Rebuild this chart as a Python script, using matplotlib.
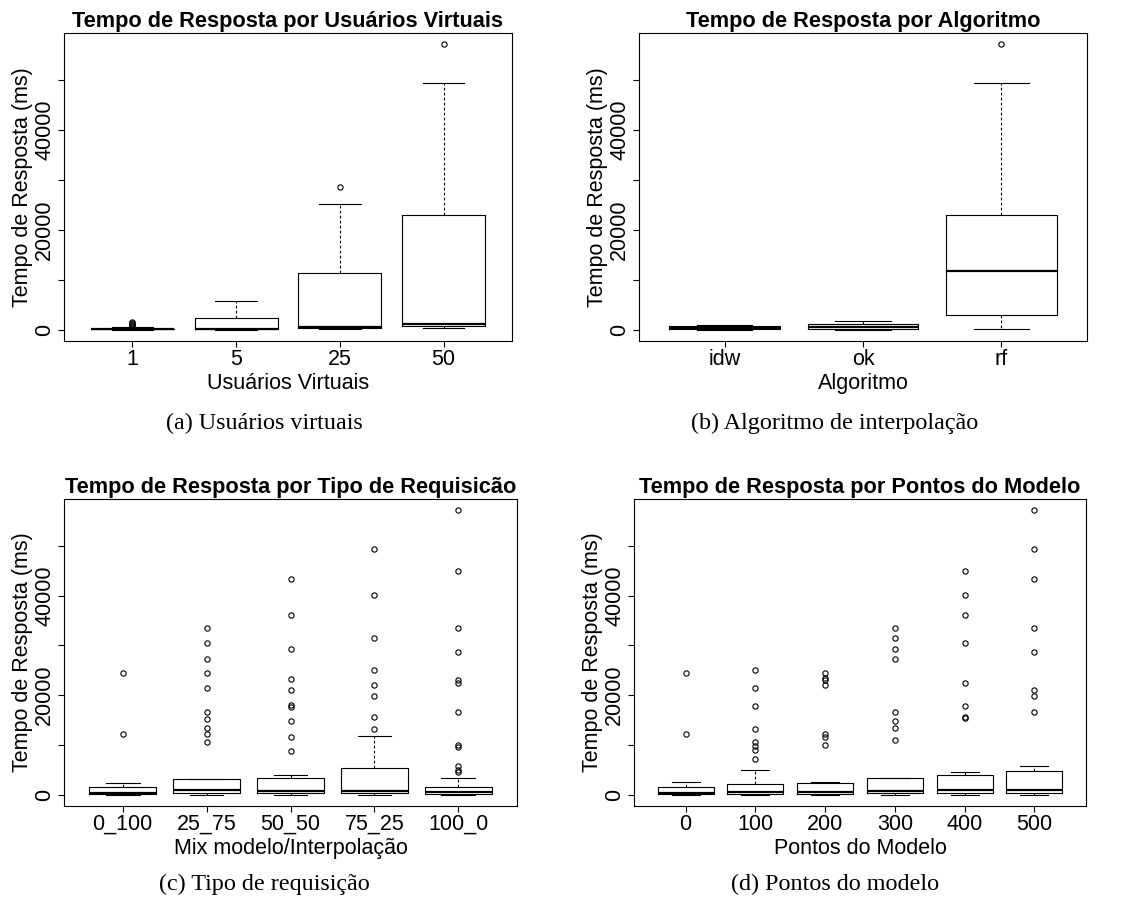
import numpy as np
import matplotlib
matplotlib.use("Agg")
import matplotlib.pyplot as plt

plt.rcParams["font.family"] = ["Liberation Sans", "DejaVu Sans"]

# ---- (a) usuarios virtuais
users_labels = ["1", "5", "25", "50"]
users_q1 = [30, 20, 400, 800]
users_med = [100, 100, 535, 1140]
users_q3 = [200, 2275, 11240, 22880]
users_lo = [0, 0, 130, 270]
users_hi = [540, 5750, 25090, 49370]
users_fliers = [[700, 900, 1100, 1300, 1500], [], [28630], [57130]]

# ---- (b) algoritmo
alg_labels = ["idw", "ok", "rf"]
alg_q1 = [20, 80, 3010]
alg_med = [300, 540, 11640]
alg_q3 = [700, 1080, 22880]
alg_lo = [0, 0, 67]
alg_hi = [1000, 1740, 49370]
alg_fliers = [[], [], [57130]]

# ---- (c) tipo de requisicao
req_labels = ["0_100", "25_75", "50_50", "75_25", "100_0"]
req_q1 = [130, 335, 400, 335, 135]
req_med = [335, 870, 800, 735, 600]
req_q3 = [1600, 3210, 3280, 5420, 1600]
req_lo = [0, 0, 0, 0, 0]
req_hi = [2400, 3210, 3950, 11710, 3410]
req_fliers = [
    [24490, 12180],
    [33580, 30510, 27160, 24490, 21340, 16590, 15250, 13450, 12240, 10640],
    [43420, 36060, 29240, 23280, 21010, 17950, 17650, 14720, 11640, 8830],
    [49370, 40210, 31510, 25090, 21940, 19870, 15520, 13250],
    [57130, 44960, 33520, 28630, 23010, 22410, 16520, 9970, 9570, 5820, 4950, 4480],
]

# ---- (d) pontos do modelo
pts_labels = ["0", "100", "200", "300", "400", "500"]
pts_q1 = [70, 200, 200, 335, 335, 335]
pts_med = [335, 470, 535, 735, 870, 940]
pts_q3 = [1600, 2210, 2410, 3280, 3880, 4680]
pts_lo = [0, 0, 0, 0, 0, 0]
pts_hi = [2475, 4880, 2475, 3410, 4480, 5820]
pts_fliers = [
    [24490, 12180],
    [25090, 21340, 17800, 13250, 10640, 9770, 8960, 7230],
    [24490, 23410, 23080, 21940, 12240, 11640, 9970],
    [33520, 31510, 29240, 27160, 16520, 14780, 13380, 10900],
    [44960, 40210, 36060, 30510, 22410, 17730, 15520, 15320],
    [57130, 49370, 43420, 33580, 28630, 21070, 19870, 16520],
]


def r_boxplot(ax, labels, q1, med, q3, lo, hi, fliers, title, xlabel):
    n = len(labels)
    stats = []
    for i in range(n):
        stats.append(dict(med=med[i], q1=q1[i], q3=q3[i],
                          whislo=lo[i], whishi=hi[i], fliers=fliers[i]))
    ax.bxp(stats, positions=range(1, n + 1), widths=0.8, capwidths=0.4,
           boxprops=dict(color="black", linewidth=0.8),
           medianprops=dict(color="black", linewidth=1.6, solid_capstyle="butt"),
           whiskerprops=dict(color="black", linewidth=0.8, linestyle=(0, (2.5, 2))),
           capprops=dict(color="black", linewidth=0.8),
           flierprops=dict(marker="o", markersize=3.8, markerfacecolor="none",
                           markeredgecolor="black", markeredgewidth=0.8))

    allv = lo + hi + [v for f in fliers for v in f]
    vmin, vmax = min(allv), max(allv)
    ext = 0.04 * (vmax - vmin)
    ax.set_ylim(vmin - ext, vmax + ext)
    ax.set_xlim(0.5 - 0.04 * n, n + 0.5 + 0.04 * n)

    ax.set_xticks(range(1, n + 1))
    ax.set_xticklabels(labels, fontsize=15.5)
    yt = np.arange(0, 50001, 10000)
    ax.set_yticks(yt)
    ax.set_yticklabels([str(v) if v % 20000 == 0 else "" for v in yt],
                       fontsize=15.5, rotation=90, va="center")
    ax.tick_params(axis="both", length=4.3, width=0.8, direction="out")
    ax.tick_params(axis="x", pad=1.5)
    ax.tick_params(axis="y", pad=2)
    for s in ax.spines.values():
        s.set_linewidth(0.8)
    ax.set_title(title, fontsize=15.7, fontweight="bold", pad=4)
    ax.set_xlabel(xlabel, fontsize=15.5, labelpad=2)
    ax.set_ylabel("Tempo de Resposta (ms)", fontsize=15.5, labelpad=1)


fig = plt.figure(figsize=(11.3, 9.02), dpi=100)
ax1 = fig.add_axes([64 / 1130, 1 - 341 / 902, 448 / 1130, 308 / 902])
ax2 = fig.add_axes([639 / 1130, 1 - 341 / 902, 448 / 1130, 308 / 902])
ax3 = fig.add_axes([64 / 1130, 1 - 806 / 902, 453 / 1130, 307 / 902])
ax4 = fig.add_axes([634 / 1130, 1 - 806 / 902, 452 / 1130, 307 / 902])

r_boxplot(ax1, users_labels, users_q1, users_med, users_q3, users_lo, users_hi,
          users_fliers, "Tempo de Resposta por Usuários Virtuais", "Usuários Virtuais")
r_boxplot(ax2, alg_labels, alg_q1, alg_med, alg_q3, alg_lo, alg_hi,
          alg_fliers, "Tempo de Resposta por Algoritmo", "Algoritmo")
r_boxplot(ax3, req_labels, req_q1, req_med, req_q3, req_lo, req_hi,
          req_fliers, "Tempo de Resposta por Tipo de Requisicão", "Mix modelo/Interpolação")
r_boxplot(ax4, pts_labels, pts_q1, pts_med, pts_q3, pts_lo, pts_hi,
          pts_fliers, "Tempo de Resposta por Pontos do Modelo", "Pontos do Modelo")

cap = dict(fontsize=17.4, family="Liberation Serif", ha="center", va="center")
fig.text(264 / 1130, 1 - 423 / 902, "(a) Usuários virtuais", **cap)
fig.text(835 / 1130, 1 - 423 / 902, "(b) Algoritmo de interpolação", **cap)
fig.text(264 / 1130, 1 - 884 / 902, "(c) Tipo de requisição", **cap)
fig.text(835 / 1130, 1 - 884 / 902, "(d) Pontos do modelo", **cap)

fig.savefig("out.png", dpi=100)
